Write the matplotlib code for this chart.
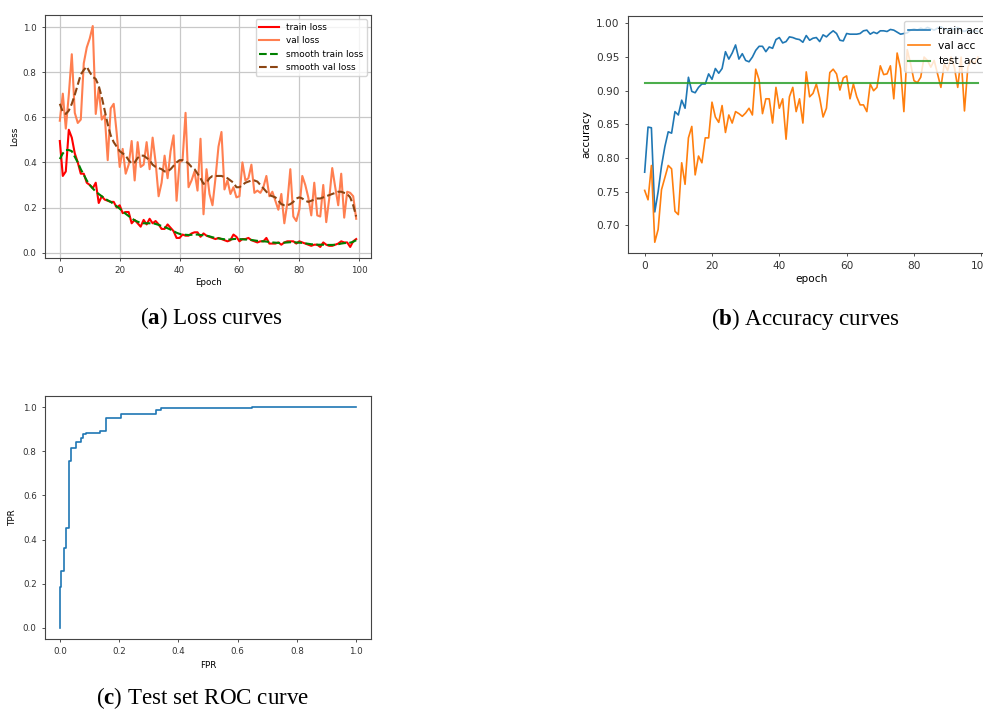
import numpy as np
import matplotlib.pyplot as plt

# ---- data ----
epochs = list(range(100))

train_loss = [0.495, 0.34, 0.36, 0.545, 0.51, 0.44, 0.40, 0.35, 0.35, 0.31,
              0.30, 0.285, 0.31, 0.22, 0.25, 0.235, 0.23, 0.225, 0.225, 0.20,
              0.21, 0.175, 0.18, 0.18, 0.13, 0.145, 0.13, 0.115, 0.145, 0.125,
              0.15, 0.13, 0.14, 0.125, 0.105, 0.105, 0.125, 0.11, 0.095, 0.065,
              0.065, 0.08, 0.075, 0.075, 0.085, 0.09, 0.09, 0.07, 0.085, 0.075,
              0.07, 0.065, 0.06, 0.065, 0.06, 0.055, 0.05, 0.055, 0.08, 0.07,
              0.05, 0.06, 0.06, 0.065, 0.055, 0.05, 0.045, 0.05, 0.05, 0.065,
              0.04, 0.04, 0.04, 0.045, 0.035, 0.045, 0.05, 0.05, 0.05, 0.04,
              0.05, 0.045, 0.04, 0.035, 0.03, 0.035, 0.035, 0.025, 0.045, 0.035,
              0.03, 0.03, 0.035, 0.04, 0.05, 0.045, 0.045, 0.025, 0.05, 0.06]

smooth_train_loss = [0.415, 0.44, 0.455, 0.455, 0.45, 0.425, 0.40, 0.37, 0.345, 0.32,
                     0.30, 0.285, 0.27, 0.26, 0.25, 0.24, 0.232, 0.225, 0.215, 0.205,
                     0.195, 0.183, 0.172, 0.162, 0.152, 0.143, 0.137, 0.132, 0.13, 0.13,
                     0.13, 0.13, 0.127, 0.123, 0.118, 0.113, 0.108, 0.102, 0.095, 0.088,
                     0.083, 0.08, 0.079, 0.078, 0.079, 0.08, 0.08, 0.078, 0.077, 0.075,
                     0.072, 0.068, 0.065, 0.063, 0.061, 0.059, 0.058, 0.058, 0.06, 0.061,
                     0.06, 0.059, 0.058, 0.058, 0.056, 0.054, 0.052, 0.051, 0.05, 0.049,
                     0.047, 0.045, 0.044, 0.043, 0.043, 0.044, 0.045, 0.046, 0.046, 0.045,
                     0.044, 0.043, 0.041, 0.039, 0.037, 0.036, 0.035, 0.035, 0.035, 0.034,
                     0.034, 0.034, 0.035, 0.037, 0.04, 0.042, 0.043, 0.044, 0.048, 0.055]

val_loss = [0.585, 0.705, 0.55, 0.70, 0.88, 0.62, 0.575, 0.59, 0.84, 0.91,
            0.95, 1.005, 0.615, 0.73, 0.59, 0.61, 0.41, 0.64, 0.66, 0.53,
            0.38, 0.46, 0.35, 0.39, 0.495, 0.32, 0.49, 0.38, 0.39, 0.49,
            0.37, 0.51, 0.40, 0.25, 0.31, 0.43, 0.33, 0.45, 0.52, 0.23,
            0.40, 0.41, 0.62, 0.29, 0.32, 0.36, 0.275, 0.505, 0.17, 0.37,
            0.26, 0.21, 0.33, 0.47, 0.535, 0.28, 0.32, 0.26, 0.29, 0.245,
            0.25, 0.40, 0.32, 0.33, 0.39, 0.265, 0.275, 0.265, 0.29, 0.34,
            0.25, 0.27, 0.23, 0.19, 0.26, 0.13, 0.22, 0.37, 0.16, 0.14,
            0.19, 0.34, 0.30, 0.245, 0.165, 0.31, 0.165, 0.16, 0.30, 0.135,
            0.24, 0.375, 0.29, 0.21, 0.35, 0.155, 0.27, 0.265, 0.25, 0.15]

smooth_val_loss = [0.66, 0.625, 0.615, 0.63, 0.66, 0.70, 0.745, 0.79, 0.81, 0.825,
                   0.80, 0.78, 0.77, 0.74, 0.69, 0.63, 0.57, 0.52, 0.49, 0.47,
                   0.45, 0.44, 0.43, 0.41, 0.395, 0.40, 0.42, 0.43, 0.43, 0.42,
                   0.41, 0.39, 0.38, 0.375, 0.37, 0.36, 0.36, 0.37, 0.385, 0.40,
                   0.41, 0.41, 0.405, 0.395, 0.38, 0.37, 0.35, 0.33, 0.305, 0.31,
                   0.33, 0.34, 0.34, 0.34, 0.34, 0.335, 0.33, 0.32, 0.31, 0.29,
                   0.29, 0.30, 0.31, 0.315, 0.32, 0.32, 0.315, 0.30, 0.285, 0.27,
                   0.255, 0.25, 0.245, 0.23, 0.215, 0.21, 0.21, 0.215, 0.225, 0.24,
                   0.245, 0.24, 0.23, 0.225, 0.23, 0.235, 0.24, 0.24, 0.245, 0.25,
                   0.255, 0.26, 0.265, 0.27, 0.27, 0.265, 0.26, 0.245, 0.21, 0.16]

train_acc = [0.779, 0.846, 0.845, 0.72, 0.75, 0.788, 0.817, 0.839, 0.837, 0.869,
             0.864, 0.886, 0.874, 0.92, 0.899, 0.897, 0.905, 0.91, 0.91, 0.925,
             0.917, 0.933, 0.926, 0.933, 0.958, 0.947, 0.956, 0.968, 0.947, 0.955,
             0.945, 0.943, 0.95, 0.96, 0.966, 0.966, 0.958, 0.965, 0.963, 0.976,
             0.979, 0.971, 0.973, 0.98, 0.979, 0.977, 0.976, 0.972, 0.982, 0.975,
             0.978, 0.979, 0.973, 0.983, 0.98, 0.985, 0.989, 0.985, 0.975, 0.974,
             0.985, 0.984, 0.984, 0.984, 0.985, 0.989, 0.99, 0.984, 0.987, 0.985,
             0.989, 0.989, 0.988, 0.991, 0.99, 0.987, 0.984, 0.985, 0.986, 0.99,
             0.992, 0.99, 0.993, 0.991, 0.994, 0.992, 0.99, 0.993, 0.995, 0.992,
             0.99, 0.993, 0.991, 0.994, 0.99, 0.988, 0.991, 0.986, 0.99, 0.988]

val_acc = [0.752, 0.738, 0.789, 0.675, 0.694, 0.753, 0.771, 0.789, 0.784, 0.721,
           0.716, 0.793, 0.761, 0.83, 0.847, 0.775, 0.803, 0.793, 0.83, 0.83,
           0.883, 0.861, 0.853, 0.878, 0.838, 0.864, 0.852, 0.869, 0.866, 0.862,
           0.867, 0.874, 0.864, 0.932, 0.916, 0.866, 0.888, 0.888, 0.852, 0.905,
           0.874, 0.888, 0.828, 0.891, 0.905, 0.869, 0.888, 0.852, 0.928, 0.891,
           0.896, 0.91, 0.889, 0.861, 0.874, 0.927, 0.932, 0.925, 0.901, 0.919,
           0.922, 0.888, 0.91, 0.891, 0.879, 0.879, 0.869, 0.91, 0.9, 0.905,
           0.937, 0.924, 0.925, 0.937, 0.888, 0.956, 0.933, 0.869, 0.961, 0.94,
           0.915, 0.912, 0.92, 0.95, 0.945, 0.935, 0.945, 0.925, 0.905, 0.94,
           0.93, 0.95, 0.935, 0.905, 0.95, 0.87, 0.935, 0.945, 0.94, 0.95]

test_acc = 0.911

fpr = [0, 0, 0.0056, 0.0056, 0.0135, 0.0135, 0.0225, 0.0225, 0.0315, 0.0315,
       0.037, 0.037, 0.056, 0.056, 0.071, 0.071, 0.079, 0.079, 0.088, 0.088,
       0.137, 0.137, 0.155, 0.155, 0.205, 0.205, 0.323, 0.323, 0.341, 0.341,
       0.65, 0.65, 1.0]
tpr = [0, 0.184, 0.184, 0.26, 0.26, 0.36, 0.36, 0.453, 0.453, 0.758,
       0.758, 0.816, 0.816, 0.841, 0.841, 0.86, 0.86, 0.876, 0.876, 0.884,
       0.884, 0.891, 0.891, 0.952, 0.952, 0.967, 0.967, 0.985, 0.985, 0.994,
       0.994, 1.0, 1.0]

captions = [r'($\mathbf{a}$) Loss curves', r'($\mathbf{b}$) Accuracy curves',
            r'($\mathbf{c}$) Test set ROC curve']

plt.rcParams['mathtext.fontset'] = 'custom'
plt.rcParams['mathtext.rm'] = 'Liberation Serif'
plt.rcParams['mathtext.bf'] = 'Liberation Serif:bold'

fig = plt.figure(figsize=(9.83, 7.11), dpi=100)
W, H = 983, 711

def add_axes(l, t, r, b):
    return fig.add_axes([l / W, 1 - b / H, (r - l) / W, (b - t) / H])

def style(ax, fs):
    ax.tick_params(labelsize=fs, width=0.6, length=2.5, colors='#333333')
    for s in ax.spines.values():
        s.set_linewidth(0.8)
        s.set_color('#444444')

# (a) loss
ax1 = add_axes(45, 15, 371, 258)
ax1.plot(epochs, train_loss, color='red', lw=1.5, label='train loss')
ax1.plot(epochs, val_loss, color='coral', lw=1.5, label='val loss')
ax1.plot(epochs, smooth_train_loss, color='green', lw=1.5, ls='--', label='smooth train loss')
ax1.plot(epochs, smooth_val_loss, color='saddlebrown', lw=1.5, ls='--', label='smooth val loss')
ax1.grid(True, color='#c8c8c8', lw=0.9)
ax1.set_xlabel('Epoch', fontsize=6.3, labelpad=2)
ax1.set_ylabel('Loss', fontsize=6.3, labelpad=3)
ax1.legend(loc='upper right', fontsize=6.4, handlelength=2.2)
style(ax1, 6.3)

# (b) accuracy
ax2 = add_axes(628, 16, 994.6, 253)
ax2.plot(epochs, train_acc, lw=1.2, label='train acc')
ax2.plot(epochs, val_acc, lw=1.2, label='val acc')
ax2.plot(epochs, [test_acc] * len(epochs), lw=1.5, alpha=0.85, label='test_acc')
ax2.set_xlabel('epoch', fontsize=7.6, labelpad=2)
ax2.set_ylabel('accuracy', fontsize=7.6, labelpad=3)
ax2.legend(loc='upper right', fontsize=7.7, handlelength=2.0)
style(ax2, 7.6)

# (c) ROC
ax3 = add_axes(45, 396, 371, 639)
ax3.plot(fpr, tpr, lw=1.2)
ax3.set_xlabel('FPR', fontsize=6.3, labelpad=3)
ax3.set_ylabel('TPR', fontsize=6.3, labelpad=4)
style(ax3, 6.3)

for (x, y), txt in zip([(211, 324.5), (805, 324.5), (203, 704)], captions):
    fig.text(x / W, 1 - y / H, txt, ha='center', va='baseline',
             fontsize=16.6, family='Liberation Serif')

fig.savefig('out.png', dpi=100)
